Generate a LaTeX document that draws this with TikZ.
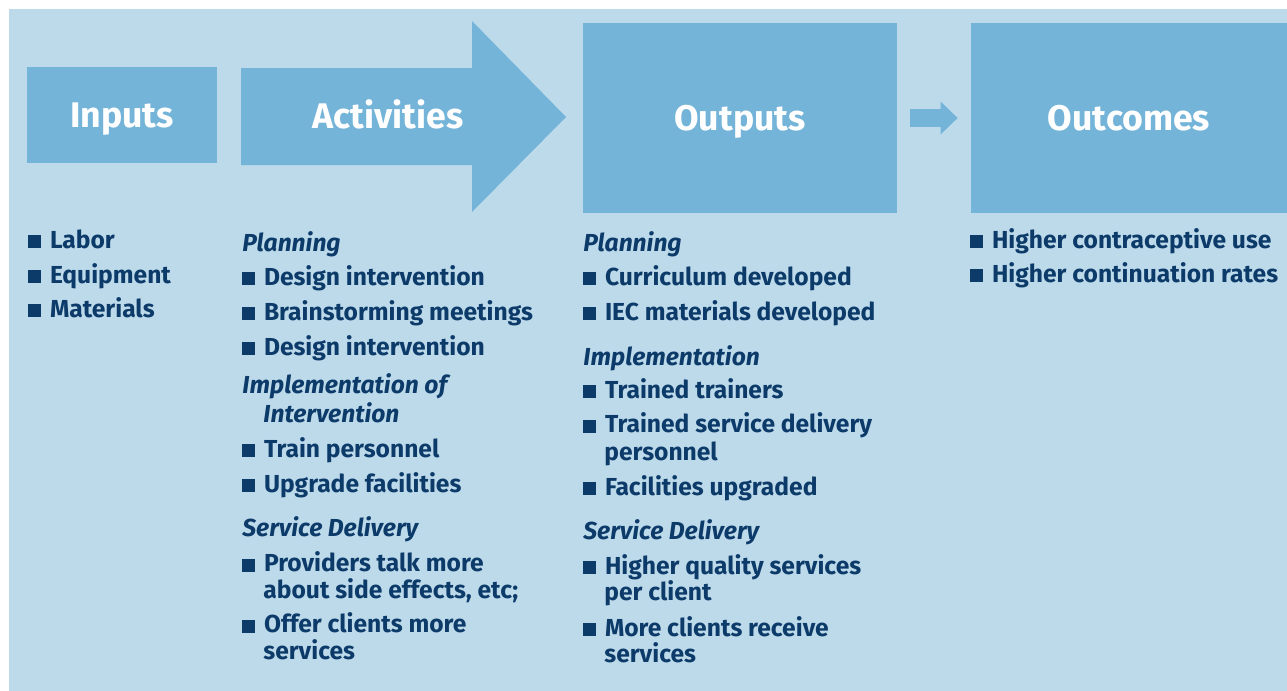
\documentclass[tikz,border=0pt]{standalone}
\usepackage{fontspec}
\setmainfont{Fira Sans}
\usepackage{xcolor}
\usepackage{tikz}
\usetikzlibrary{
  arrows.meta,
  positioning,
  calc
}
\definecolor{panelbg}{HTML}{BDDAEB}
\definecolor{boxblue}{HTML}{74B4D8}
\definecolor{navy}{HTML}{0C3A69}
\newcommand{\sq}{\makebox[10.8pt][l]{\rule{6.5pt}{6.5pt}}}

\begin{document}
\begin{tikzpicture}[
  x=0.5pt, y=-0.5pt,
  blk/.style={fill=boxblue, inner sep=0pt, text=white, font=\fontsize{17.8}{20}\selectfont\bfseries, text height=12.2pt, text depth=0pt},
  itm/.style={anchor=base west, inner sep=0pt, text=navy, font=\fontsize{12.3}{14}\selectfont\bfseries},
  sub/.style={itm, font=\fontsize{12.3}{14}\selectfont\bfseries\itshape},
  flow/.style={draw=boxblue, line width=9pt, -{Triangle[length=8.5pt, width=16.5pt, line width=0pt]}},
]
  \useasboundingbox (0,0) rectangle (1287,691);
  \fill[white] (0,0) rectangle (1287,691);
  \fill[panelbg] (9,9) rectangle (1287,691);

  % Header blocks
  \node[blk, minimum width=95pt, minimum height=48pt] (inputs) at (122,115) {Inputs};
  \fill[boxblue] (241,68) -- (472,68) -- (472,21) -- (566,117) -- (472,212) -- (472,165) -- (241,165) -- cycle;
  \node[blk, fill=none] (activities) at (388,116) {Activities};
  \node[blk, minimum width=157pt, minimum height=95pt] (outputs) at (740,118) {Outputs};
  \node[blk, minimum width=158pt, minimum height=95pt] (outcomes) at (1129,118) {Outcomes};
  \draw[flow, shorten <=6.5pt, shorten >=6.5pt] (outputs) -- (outcomes);

  % Inputs
  \node[itm] (in1) at (28,248) {\sq Labor};
  \node[itm] (in2) at (28,283) {\sq Equipment};
  \node[itm] (in3) at (28,317) {\sq Materials};

  % Activities
  \node[sub] (actplan) at (242,251) {Planning};
  \node[itm] (act1) at (242,285) {\sq Design intervention};
  \node[itm] (act2) at (242,320) {\sq Brainstorming meetings};
  \node[itm] (act3) at (242,355) {\sq Design intervention};
  \node[sub] (actimp) at (242,393) {Implementation of};
  \node[sub] (actimp2) at (263,422.5) {Intervention};
  \node[itm] (act4) at (242,457) {\sq Train personnel};
  \node[itm] (act5) at (242,492) {\sq Upgrade facilities};
  \node[sub] (actserv) at (242,536) {Service Delivery};
  \node[itm] (act6) at (242,571.5) {\sq Providers talk more};
  \node[itm] (act6b) at (263,598) {about side effects, etc;};
  \node[itm] (act7) at (242,632.5) {\sq Offer clients more};
  \node[itm] (act7b) at (263,659) {services};

  % Outputs
  \node[sub] (outplan) at (583,251) {Planning};
  \node[itm] (out1) at (583,285) {\sq Curriculum developed};
  \node[itm] (out2) at (583,320) {\sq IEC materials developed};
  \node[sub] (outimp) at (583,365) {Implementation};
  \node[itm] (out3) at (583,398) {\sq Trained trainers};
  \node[itm] (out4) at (583,432.5) {\sq Trained service delivery};
  \node[itm] (out4b) at (604,460.5) {personnel};
  \node[itm] (out5) at (583,495) {\sq Facilities upgraded};
  \node[sub] (outserv) at (583,539.5) {Service Delivery};
  \node[itm] (out6) at (583,574) {\sq Higher quality services};
  \node[itm] (out6b) at (604,600) {per client};
  \node[itm] (out7) at (583,636) {\sq More clients receive};
  \node[itm] (out7b) at (604,662.5) {services};

  % Outcomes
  \node[itm] (oc1) at (970,248) {\sq Higher contraceptive use};
  \node[itm] (oc2) at (970,282) {\sq Higher continuation rates};
\end{tikzpicture}
\end{document}
